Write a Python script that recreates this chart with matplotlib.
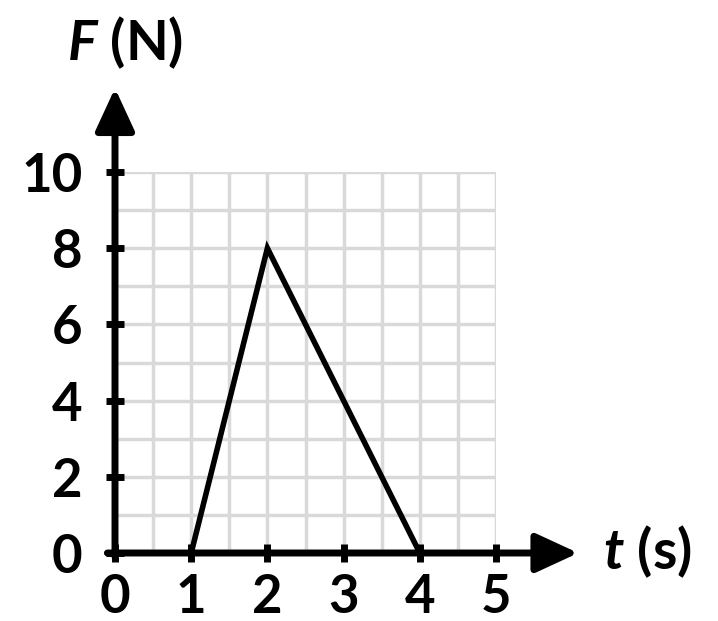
import matplotlib.pyplot as plt

# Dados do gráfico (força x tempo)
tempo = [1, 2, 4]
forca = [0, 8, 0]
ticks_x = [0, 1, 2, 3, 4, 5]
ticks_y = [0, 2, 4, 6, 8, 10]

plt.rcParams['font.family'] = 'Lato'
plt.rcParams['font.weight'] = 'bold'
plt.rcParams['mathtext.fontset'] = 'custom'
plt.rcParams['mathtext.it'] = 'Lato:italic:bold'
plt.rcParams['mathtext.rm'] = 'Lato:bold'

fig = plt.figure(figsize=(7.18, 6.21), dpi=100)
ax = fig.add_axes([115 / 718, 68 / 621, 381 / 718, 381 / 621])

ax.set_xlim(0, 5)
ax.set_ylim(0, 10)

# Grade cinza clara
ax.set_xticks(ticks_x)
ax.set_yticks(ticks_y)
ax.set_xticks([v / 2 for v in range(11)], minor=True)
ax.set_yticks(range(11), minor=True)
ax.grid(True, which='both', color='#d9d9d9', linewidth=2.5)
ax.set_axisbelow(True)

for s in ax.spines.values():
    s.set_visible(False)

ax.tick_params(which='major', direction='inout', length=13, width=5, color='black',
               labelsize=38, zorder=5)
ax.tick_params(axis='x', which='major', pad=8)
ax.tick_params(axis='y', which='major', pad=17)
ax.tick_params(which='minor', length=0)

# Linha do gráfico
ax.plot(tempo, forca, color='black', linewidth=4, solid_joinstyle='miter', zorder=3, clip_on=False)

# Eixos com setas
seta = dict(arrowstyle='-|>,head_length=2.6,head_width=1.2', lw=5, color='black',
            shrinkA=0, shrinkB=0, mutation_scale=10, capstyle='round')
ax.annotate('', xy=(0, 12.2), xytext=(0, -0.1), arrowprops=seta, annotation_clip=False, zorder=4)
ax.annotate('', xy=(6.08, 0), xytext=(-0.1, 0), arrowprops=seta, annotation_clip=False, zorder=4)

# Rótulos dos eixos
ax.text(0.13, 12.94, '$F$ (N)', fontsize=40, ha='center', va='baseline')
ax.text(6.98, -0.42, '$t$ (s)', fontsize=40, ha='center', va='baseline')

plt.savefig('out.png', dpi=100)
